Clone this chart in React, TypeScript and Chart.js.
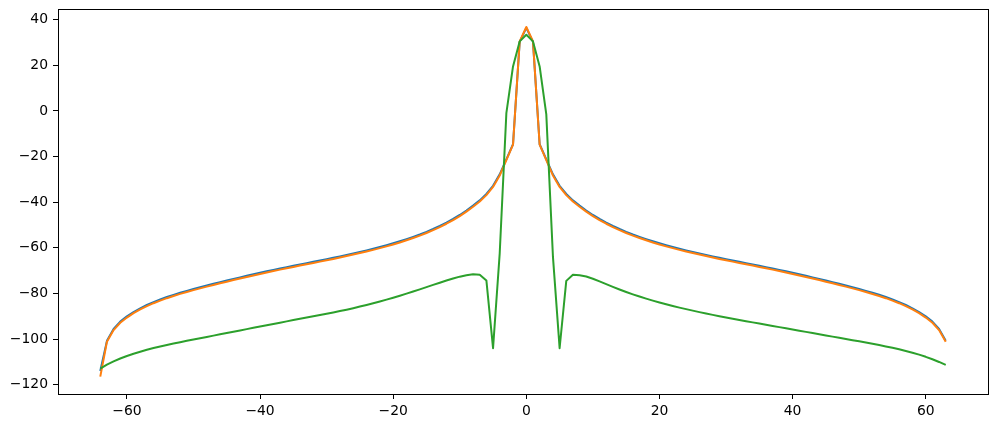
import React, { useEffect, useRef } from "react";
import { Chart, registerables } from "chart.js";

Chart.register(...registerables);

// x positions: integers from -64 to 63
const xValues: number[] = Array.from({ length: 128 }, (_, i) => i - 64);

const blueValues: number[] = [
  // x = -64 .. -1
  -114.0, -100.8, -95.58, -92.38, -90.08, -88.17, -86.52, -85.07, -83.79, -82.64,
  -81.59, -80.62, -79.72, -78.87, -78.06, -77.28, -76.52, -75.78, -75.06, -74.35,
  -73.65, -72.96, -72.28, -71.61, -70.95, -70.31, -69.68, -69.07, -68.47, -67.88,
  -67.3, -66.72, -66.14, -65.56, -64.98, -64.38, -63.76, -63.13, -62.48, -61.81,
  -61.12, -60.4, -59.65, -58.87, -58.04, -57.16, -56.22, -55.22, -54.15, -53.0,
  -51.75, -50.4, -48.95, -47.35, -45.6, -43.65, -41.5, -39.2, -36.4, -32.8,
  -27.8, -21.2, -14.6, 30.3,
  // x = 0
  36.4,
  // x = 1 .. 63
  30.3, -14.6, -21.2, -27.8, -32.8, -36.4, -39.2, -41.5, -43.65, -45.6,
  -47.35, -48.95, -50.4, -51.75, -53.0, -54.15, -55.22, -56.22, -57.16, -58.04,
  -58.87, -59.65, -60.4, -61.12, -61.81, -62.48, -63.13, -63.76, -64.38, -64.98,
  -65.56, -66.14, -66.72, -67.3, -67.88, -68.47, -69.07, -69.68, -70.31, -70.95,
  -71.61, -72.28, -72.96, -73.65, -74.35, -75.06, -75.78, -76.52, -77.28, -78.06,
  -78.87, -79.72, -80.62, -81.59, -82.64, -83.79, -85.07, -86.52, -88.17, -90.08,
  -92.38, -95.58, -100.8,
];

const orangeValues: number[] = [
  // x = -64 .. -1
  -116.5, -101.2, -96.08, -92.88, -90.58, -88.67, -87.02, -85.57, -84.29, -83.14,
  -82.09, -81.12, -80.22, -79.37, -78.56, -77.78, -77.02, -76.28, -75.56, -74.85,
  -74.15, -73.46, -72.78, -72.11, -71.45, -70.81, -70.18, -69.57, -68.97, -68.38,
  -67.8, -67.22, -66.64, -66.06, -65.48, -64.88, -64.26, -63.63, -62.98, -62.31,
  -61.62, -60.9, -60.15, -59.37, -58.54, -57.66, -56.72, -55.72, -54.65, -53.5,
  -52.25, -50.9, -49.45, -47.85, -46.1, -44.15, -42.0, -39.7, -36.9, -33.3,
  -28.3, -21.6, -14.8, 30.5,
  // x = 0
  36.8,
  // x = 1 .. 63
  30.5, -14.8, -21.6, -28.3, -33.3, -36.9, -39.7, -42.0, -44.15, -46.1,
  -47.85, -49.45, -50.9, -52.25, -53.5, -54.65, -55.72, -56.72, -57.66, -58.54,
  -59.37, -60.15, -60.9, -61.62, -62.31, -62.98, -63.63, -64.26, -64.88, -65.48,
  -66.06, -66.64, -67.22, -67.8, -68.38, -68.97, -69.57, -70.18, -70.81, -71.45,
  -72.11, -72.78, -73.46, -74.15, -74.85, -75.56, -76.28, -77.02, -77.78, -78.56,
  -79.37, -80.22, -81.12, -82.09, -83.14, -84.29, -85.57, -87.02, -88.67, -90.58,
  -92.88, -96.08, -101.2,
];

const greenValues: number[] = [
  // x = -64 .. -1
  -113.0, -111.25, -109.8, -108.55, -107.45, -106.45, -105.55, -104.73, -103.97, -103.27,
  -102.61, -101.98, -101.38, -100.79, -100.21, -99.64, -99.07, -98.5, -97.93, -97.36,
  -96.79, -96.22, -95.65, -95.08, -94.51, -93.95, -93.39, -92.83, -92.26, -91.7,
  -91.15, -90.6, -90.05, -89.5, -88.93, -88.35, -87.75, -87.12, -86.46, -85.77,
  -85.05, -84.3, -83.52, -82.71, -81.87, -81.0, -80.1, -79.17, -78.22, -77.25,
  -76.27, -75.3, -74.35, -73.45, -72.65, -72.0, -71.6, -71.8, -74.3, -104.0,
  -62.5, -1.0, 19.5, 30.5,
  // x = 0
  33.4,
  // x = 1 .. 63
  30.5, 19.5, -1.5, -64.0, -104.0, -74.5, -71.8, -72.0, -72.6, -73.55,
  -74.7, -75.9, -77.1, -78.27, -79.37, -80.4, -81.37, -82.27, -83.15, -83.97,
  -84.77, -85.52, -86.22, -86.88, -87.55, -88.2, -88.8, -89.4, -89.98, -90.55,
  -91.1, -91.65, -92.18, -92.7, -93.22, -93.74, -94.26, -94.78, -95.3, -95.82,
  -96.34, -96.86, -97.38, -97.9, -98.42, -98.94, -99.46, -99.98, -100.5, -101.02,
  -101.55, -102.09, -102.65, -103.24, -103.86, -104.52, -105.23, -106.0, -106.85, -107.8,
  -108.88, -110.05, -111.35,
];

const xTicks: number[] = [-60, -40, -20, 0, 20, 40, 60];
const yTicks: number[] = [-120, -100, -80, -60, -40, -20, 0, 20, 40];

const fmt = (v: number | string) => String(v).replace("-", "\u2212");

const framePlugin = {
  id: "frame",
  afterDraw(chart: any) {
    const { ctx, chartArea } = chart;
    const { left, top, right, bottom } = chartArea;
    ctx.save();
    ctx.strokeStyle = "#000";
    ctx.lineWidth = 1;
    ctx.strokeRect(
      Math.round(left) + 0.5,
      Math.round(top) + 0.5,
      Math.round(right) - Math.round(left),
      Math.round(bottom) - Math.round(top)
    );
    ctx.restore();
  },
};

const tickFont = { family: "'DejaVu Sans', sans-serif", size: 13.9 };

export default function App() {
  const ref = useRef<HTMLCanvasElement>(null);

  useEffect(() => {
    if (!ref.current) return;
    const mk = (vals: number[]) => xValues.map((x, i) => ({ x, y: vals[i] }));
    const chart = new Chart(ref.current, {
      type: "line",
      data: {
        datasets: [
          {
            data: mk(blueValues),
            borderColor: "#1f77b4",
            borderWidth: 2,
            pointRadius: 0,
            borderJoinStyle: "round",
            order: 3,
          },
          {
            data: mk(orangeValues),
            borderColor: "#ff7f0e",
            borderWidth: 2,
            pointRadius: 0,
            borderJoinStyle: "round",
            order: 2,
          },
          {
            data: mk(greenValues),
            borderColor: "#2ca02c",
            borderWidth: 2,
            pointRadius: 0,
            borderJoinStyle: "round",
            order: 1,
          },
        ],
      },
      options: {
        animation: false,
        responsive: false,
        maintainAspectRatio: false,
        layout: { padding: { left: 0, right: 9, top: 9, bottom: 0 } },
        plugins: { legend: { display: false }, tooltip: { enabled: false } },
        elements: { line: { tension: 0 } },
        scales: {
          x: {
            type: "linear",
            min: -70.35,
            max: 69.35,
            afterBuildTicks: (s: any) => {
              s.ticks = xTicks.map((v) => ({ value: v }));
            },
            afterFit: (s: any) => {
              s.height = 34;
              s.paddingLeft = 0;
              s.paddingRight = 0;
            },
            grid: { drawOnChartArea: false, color: "#000", tickLength: 5, lineWidth: 1 },
            border: { display: false },
            ticks: {
              color: "#000",
              font: tickFont,
              padding: 4,
              maxRotation: 0,
              autoSkip: false,
              callback: (v: any) => fmt(v),
            },
          },
          y: {
            type: "linear",
            min: -124.1,
            max: 44.7,
            afterBuildTicks: (s: any) => {
              s.ticks = yTicks.map((v) => ({ value: v }));
            },
            afterFit: (s: any) => {
              s.width = 58;
              s.paddingTop = 0;
              s.paddingBottom = 0;
            },
            grid: { drawOnChartArea: false, color: "#000", tickLength: 5, lineWidth: 1 },
            border: { display: false },
            ticks: {
              color: "#000",
              font: tickFont,
              padding: 5,
              autoSkip: false,
              callback: (v: any) => fmt(v),
            },
          },
        },
      },
      plugins: [framePlugin],
    } as any);
    return () => chart.destroy();
  }, []);

  return (
    <div
      style={{
        position: "absolute",
        left: 0,
        top: 0,
        width: 997,
        height: 428,
        background: "#fff",
      }}
    >
      <canvas ref={ref} width={997} height={428} style={{ display: "block" }} />
    </div>
  );
}
